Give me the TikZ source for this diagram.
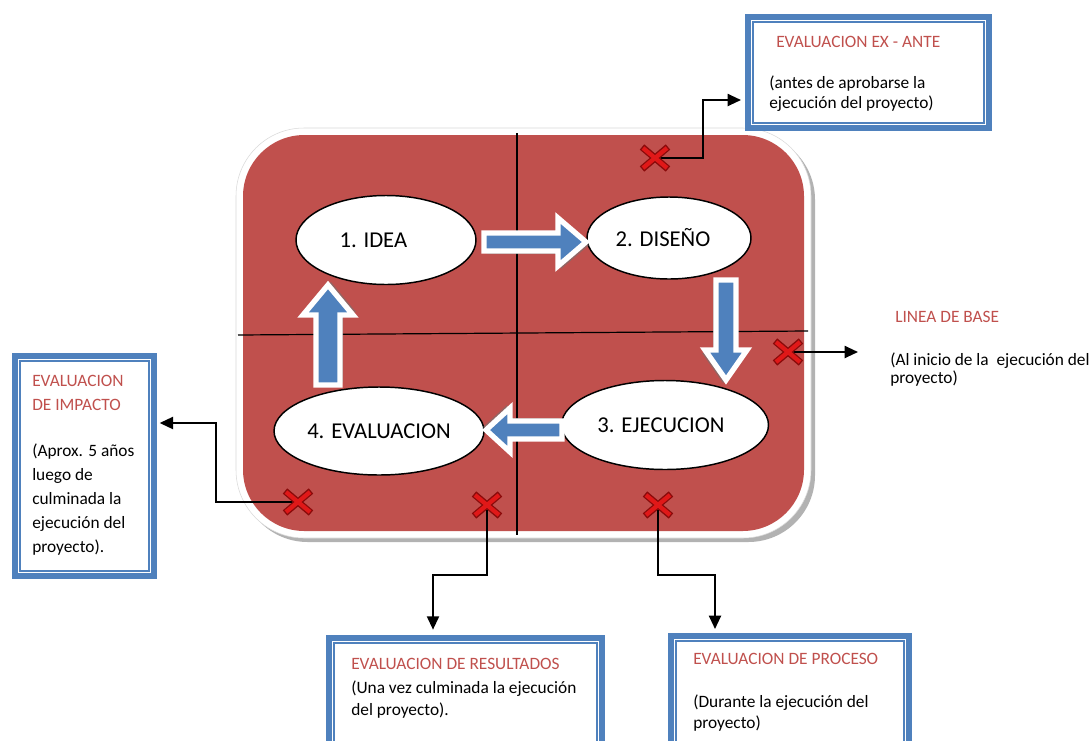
\documentclass[tikz,border=0pt]{standalone}
\usepackage{fontspec}
\setmainfont{Carlito}
\usetikzlibrary{shapes.geometric,arrows.meta,calc}
\definecolor{redbg}{HTML}{C0504D}
\definecolor{bblue}{HTML}{4F81BD}
\definecolor{xred}{HTML}{E01818}
\definecolor{xdark}{HTML}{8A0A0A}
\begin{document}
\begin{tikzpicture}[x=0.75pt,y=-0.75pt,
  stage/.style={ellipse, draw=black, line width=1.1pt, fill=white, inner sep=0pt, font=\fontsize{17}{19}\selectfont},
  evalbox/.style={draw=bblue, line width=4.5pt, fill=white, inner sep=0pt, rectangle},
  innerline/.style={draw=bblue, line width=1.1pt},
  txt/.style={anchor=base west, inner sep=0pt, font=\fontsize{13}{15}\selectfont},
  ttl/.style={txt, text=redbg},
  conn/.style={line width=1.5pt, -{Triangle[length=10pt,width=9pt]}},
  quad/.style={line width=0.9pt, black},
  xmark/.pic={
    \draw[xdark, line width=5.2pt] (-13,-11) -- (13,11) (-13,11) -- (13,-11);
    \draw[xred, line width=3.2pt] (-12,-10) -- (12,10) (-12,10) -- (12,-10);
  },
  pics/barrow/.style n args={4}{code={
    \fill[black!55, opacity=0.6] (3,{-#2+3}) -- ({#1-#4+3},{-#2+3}) -- ({#1-#4+3},{-#3+3}) -- ({#1+3},3) -- ({#1-#4+3},{#3+3}) -- ({#1-#4+3},{#2+3}) -- (3,{#2+3}) -- cycle;
    \draw[white, line width=4pt, fill=bblue, line join=miter] (0,-#2) -- ({#1-#4},-#2) -- ({#1-#4},-#3) -- (#1,0) -- ({#1-#4},#3) -- ({#1-#4},#2) -- (0,#2) -- cycle;
  }}
]
\useasboundingbox (0,0) rectangle (1089,740);
\fill[white] (0,0) rectangle (1089,740);

% panel
\fill[black!30, rounded corners=50pt] (241,133) rectangle (815,542);
\filldraw[fill=white, draw=black!15, rounded corners=51pt] (236,128) rectangle (811,538);
\fill[redbg, rounded corners=46pt] (243,135) rectangle (804,531);

% quadrant lines
\draw[quad] (517,133) -- (517,535);
\draw[quad] (238,335) -- (808,331);

% stages
\node[stage, minimum width=135pt, minimum height=66.75pt] (idea) at (386,240) {1. IDEA\kern19pt};
\node[stage, minimum width=123pt, minimum height=61.5pt] (diseno) at (669,238) {2. DISEÑO\kern9pt};
\node[stage, minimum width=155.25pt, minimum height=66.75pt] (ejec) at (665,425) {3. EJECUCION\kern6pt};
\node[stage, minimum width=157.5pt, minimum height=66pt] (evalu) at (379,431) {4. EVALUACION};

% block arrows
\pic at (484,242) {barrow={102}{9}{24}{28}};
\pic[rotate=-90] at (726,280) {barrow={100}{10}{21}{30}};
\pic[rotate=180] at (562,430) {barrow={76}{9}{22}{24}};
\pic[rotate=90] at (328,385) {barrow={100}{12}{25}{30}};

% boxes
\node[evalbox, minimum width=180.75pt, minimum height=83.25pt] (exante) at (868.5,72.5) {};
\draw[innerline] ([shift={(8,8)}]exante.north west) rectangle ([shift={(-8,-8)}]exante.south east);
\node[evalbox, minimum width=104.25pt, minimum height=165pt] (impacto) at (84.5,466) {};
\draw[innerline] ([shift={(8,8)}]impacto.north west) rectangle ([shift={(-8,-8)}]impacto.south east);
\node[evalbox, minimum width=204.75pt, minimum height=93pt] (result) at (465.5,700) {};
\draw[innerline] ([shift={(8,8)}]result.north west) rectangle ([shift={(-8,-8)}]result.south east);
\node[evalbox, minimum width=178.5pt, minimum height=94.5pt] (proceso) at (790,699) {};
\draw[innerline] ([shift={(8,8)}]proceso.north west) rectangle ([shift={(-8,-8)}]proceso.south east);

% marks
\coordinate (x1) at (655,158);
\coordinate (x2) at (788,352);
\coordinate (x3) at (298,502);
\coordinate (x4) at (487,505);
\coordinate (x5) at (658,505);
\coordinate (lb) at (858,349);

% connectors
\draw[conn, shorten >=3pt] (x1) -| (703,100) -- (exante.west |- 703,100);
\draw[conn] (x2) -- (x2 -| lb);
\draw[conn, shorten >=2pt] (x3) -| (216,423) -- (impacto.east |- 216,423);
\draw[conn, shorten >=4pt] (x4) |- (433,575) -- (result.north -| 433,575);
\draw[conn, shorten >=3pt] (x5) |- (715,575) -- (proceso.north -| 715,575);

\pic at (x1) {xmark};
\pic at (x2) {xmark};
\pic at (x3) {xmark};
\pic at (x4) {xmark};
\pic at (x5) {xmark};

% texts
\node[ttl] (t1a) at (776,47) {EVALUACION EX - ANTE};
\node[txt] (t1b) at (769,88) {(antes de aprobarse la};
\node[txt] (t1c) at (769,108) {ejecución del proyecto)};

\node[ttl] (t2a) at (895,322) {LINEA DE BASE};
\node[txt] (t2b) at (890,365) {(Al inicio de la\ \ ejecución del};
\node[txt] (t2c) at (890,383) {proyecto)};

\node[ttl] (t3a) at (32,386) {EVALUACION};
\node[ttl] (t3b) at (32,410) {DE IMPACTO};
\node[txt] (t3c) at (32,456) {(Aprox. 5 años};
\node[txt] (t3d) at (32,480) {luego de};
\node[txt] (t3e) at (32,504) {culminada la};
\node[txt] (t3f) at (32,528) {ejecución del};
\node[txt] (t3g) at (32,552) {proyecto).};

\node[ttl] (t4a) at (351,669) {EVALUACION DE RESULTADOS};
\node[txt] (t4b) at (351,693) {(Una vez culminada la ejecución};
\node[txt] (t4c) at (351,715) {del proyecto).};

\node[ttl] (t5a) at (693,664) {EVALUACION DE PROCESO};
\node[txt] (t5b) at (693,707) {(Durante la ejecución del};
\node[txt] (t5c) at (693,728) {proyecto)};
\end{tikzpicture}
\end{document}
